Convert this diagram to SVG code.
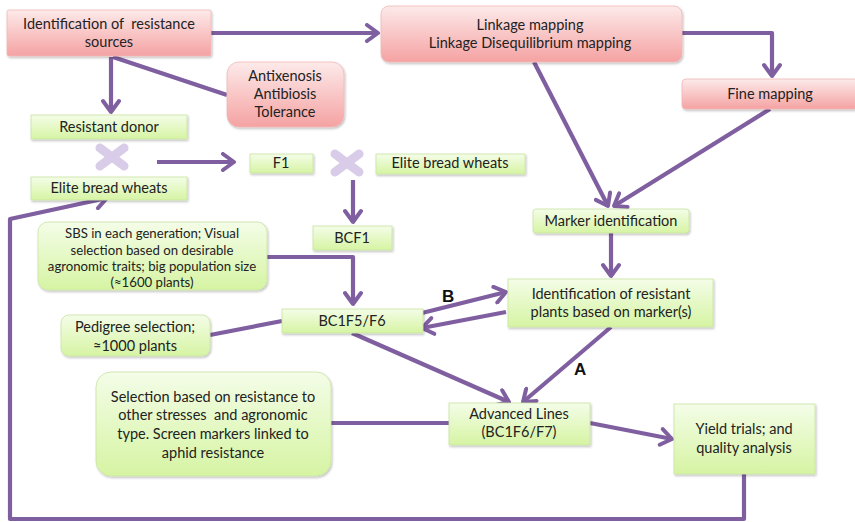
<svg xmlns="http://www.w3.org/2000/svg" width="855" height="522" viewBox="0 0 855 522">
<defs>
<linearGradient id="pink" x1="0" y1="0" x2="0" y2="1"><stop offset="0" stop-color="#fdeaea"/><stop offset="1" stop-color="#f5a2a2"/></linearGradient>
<linearGradient id="green" x1="0" y1="0" x2="0" y2="1"><stop offset="0" stop-color="#f4fde8"/><stop offset="1" stop-color="#d6f4a3"/></linearGradient>
<filter id="sh" x="-10%" y="-10%" width="120%" height="130%"><feDropShadow dx="1" dy="1.5" stdDeviation="1" flood-color="#000" flood-opacity="0.25"/></filter>
<marker id="ah" markerUnits="userSpaceOnUse" markerWidth="20" markerHeight="20" viewBox="-14 -10 16 20" refX="0" refY="0" orient="auto"><path d="M-11,-8 L0,0 L-11,8" fill="none" stroke="#7f5fa0" stroke-width="4" stroke-linecap="round" stroke-linejoin="round"/></marker>
</defs>
<style>
.p{fill:url(#pink);stroke:#f0b8b8;stroke-width:0.8;filter:url(#sh)}
.g{fill:url(#green);stroke:#c9e3a3;stroke-width:0.8;filter:url(#sh)}
.t{font-family:Lato,"Open Sans","Liberation Sans",sans-serif;font-size:14.5px;fill:#222;text-anchor:middle;white-space:pre}
.s{font-size:13.2px}
.c{fill:none;stroke:#7f5fa0;stroke-width:4.2;stroke-linejoin:round}
.a{marker-end:url(#ah)}
.x{stroke:#d8cce8;stroke-width:9;stroke-linecap:round}
.l{font-family:"Liberation Sans",Arial,sans-serif;font-weight:bold;font-size:17px;fill:#111}
</style>
<g id="connectors">
<path class="c a" d="M211,33 L378,33"/>
<path class="c a" d="M111,57 L111,112"/>
<path class="c" d="M113,57 L227,95"/>
<path class="c a" d="M682,33 L772,33 L772,76"/>
<path class="c a" d="M534,62 L608,206"/>
<path class="c a" d="M770,109 L614,206"/>
<path class="c a" d="M157,162 L234,162"/>
<path class="c a" d="M353,180 L353,222"/>
<path class="c a" d="M267,257 L353,257 L353,304"/>
<path class="c" d="M210,335 L282,321"/>
<path class="c a" d="M611,233 L611,276"/>
<path class="c a" d="M422,313 L506,292"/>
<path class="c a" d="M506,312 L422,328"/>
<path class="c a" d="M611,327 L523,402"/>
<path class="c a" d="M352,333 L509,402"/>
<path class="c" d="M331,423 L449,423"/>
<path class="c a" d="M590,423 L672,439"/>
<path class="c a" d="M744,474 L744,519 L10,519 L10,219 L107,198"/>
</g>
<g id="cross1"><path class="x" d="M100,148 L124,166 M124,148 L100,166"/></g>
<g id="cross2"><path class="x" d="M335,154 L359,172 M359,154 L335,172"/></g>
<g id="n-sources"><rect class="p" x="7" y="10" width="204" height="46" rx="2"/><text class="t" x="109" y="29">Identification of  resistance</text><text class="t" x="109" y="47">sources</text></g>
<g id="n-linkage"><rect class="p" x="381" y="6" width="301" height="56" rx="8"/><text class="t" x="530" y="30">Linkage mapping</text><text class="t" x="530" y="48">Linkage Disequilibrium mapping</text></g>
<g id="n-anti"><rect class="p" x="227" y="62" width="117" height="65" rx="12"/><text class="t" x="285" y="81">Antixenosis</text><text class="t" x="285" y="99">Antibiosis</text><text class="t" x="285" y="117">Tolerance</text></g>
<g id="n-fine"><rect class="p" x="682" y="79" width="176" height="30" rx="4"/><text class="t" x="770" y="99">Fine mapping</text></g>
<g id="n-donor"><rect class="g" x="31" y="115" width="156" height="24"/><text class="t" x="109" y="132">Resistant donor</text></g>
<g id="n-elite1"><rect class="g" x="31" y="177" width="156" height="23"/><text class="t" x="109" y="193">Elite bread wheats</text></g>
<g id="n-f1"><rect class="g" x="250" y="154" width="63" height="19"/><text class="t" x="281" y="168">F1</text></g>
<g id="n-elite2"><rect class="g" x="376" y="154" width="149" height="20"/><text class="t" x="450" y="168">Elite bread wheats</text></g>
<g id="n-bcf1"><rect class="g" x="313" y="226" width="79" height="24"/><text class="t" x="352" y="243">BCF1</text></g>
<g id="n-sbs"><rect class="g" x="38" y="222" width="229" height="68" rx="10"/><text class="t s" x="152" y="238">SBS in each generation; Visual</text><text class="t s" x="152" y="255">selection based on desirable</text><text class="t s" x="152" y="271">agronomic traits; big population size</text><text class="t s" x="152" y="287">(≈1600 plants)</text></g>
<g id="n-bc1f5"><rect class="g" x="282" y="309" width="141" height="24"/><text class="t" x="352" y="326">BC1F5/F6</text></g>
<g id="n-pedigree"><rect class="g" x="61" y="315" width="149" height="41" rx="8"/><text class="t" x="135" y="332">Pedigree selection;</text><text class="t" x="135" y="351">≈1000 plants</text></g>
<g id="n-marker"><rect class="g" x="533" y="209" width="156" height="24" rx="3"/><text class="t" x="611" y="226">Marker identification</text></g>
<g id="n-resplants"><rect class="g" x="508" y="279" width="205" height="48"/><text class="t" x="611" y="299">Identification of resistant</text><text class="t" x="611" y="317">plants based on marker(s)</text></g>
<g id="n-advanced"><rect class="g" x="449" y="403" width="141" height="42"/><text class="t" x="519" y="419">Advanced Lines</text><text class="t" x="519" y="437">(BC1F6/F7)</text></g>
<g id="n-yield"><rect class="g" x="674" y="404" width="141" height="70"/><text class="t" x="744" y="434">Yield trials; and</text><text class="t" x="744" y="453">quality analysis</text></g>
<g id="n-selection"><rect class="g" x="96" y="372" width="235" height="104" rx="15"/><text class="t" x="213" y="402">Selection based on resistance to</text><text class="t" x="213" y="420">other stresses  and agronomic</text><text class="t" x="213" y="439">type. Screen markers linked to</text><text class="t" x="213" y="458">aphid resistance</text></g>
<g id="labels"><text class="l" x="442" y="302">B</text><text class="l" x="574" y="375">A</text></g>
</svg>
